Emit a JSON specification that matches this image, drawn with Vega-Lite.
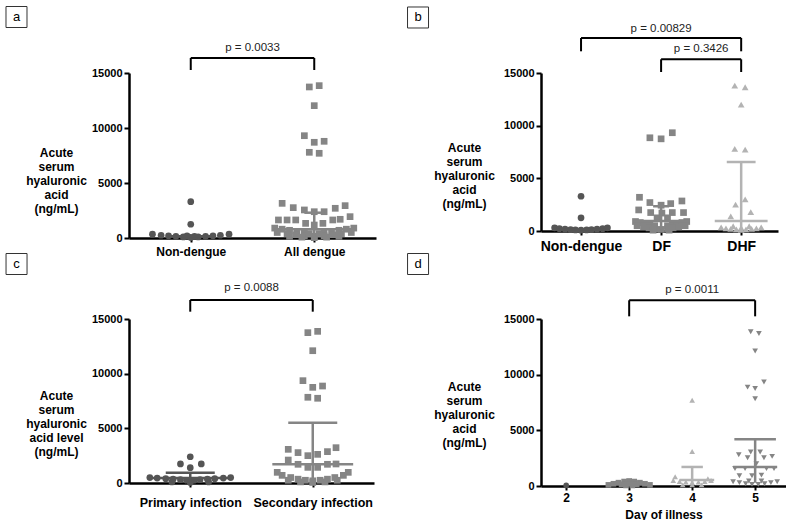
{
  "$schema": "https://vega.github.io/schema/vega-lite/v6.json",
  "background": "white",
  "padding": {"left": 3, "top": 4, "right": 0, "bottom": 0},
  "columns": 2,
  "spacing": {"row": 81, "column": 165},
  "bounds": "flush",
  "align": "each",
  "resolve": {"scale": {"x": "independent", "y": "independent"}},
  "config": {
    "view": {"stroke": null},
    "font": "Liberation Sans",
    "axis": {"domainColor": "black", "domainWidth": 2.5, "tickColor": "black", "tickWidth": 2, "labelColor": "black", "labelFont": "Liberation Sans", "labelFontWeight": "bold", "titleFont": "Liberation Sans", "titleFontWeight": "bold", "titleColor": "black", "grid": false, "labelOverlap": false, "labelFlush": false},
    "axisY": {"tickSize": 5, "labelFontSize": 11, "labelPadding": 2, "titleAngle": 0, "titleAlign": "center", "titleBaseline": "middle", "titleFontSize": 12, "titleLineHeight": 14},
    "axisX": {"tickSize": 4, "labelFontSize": 12}
  },
  "datasets": {
    "pts": [
      {"p":"a","g":"Non-dengue","x":1,"y":3300},{"p":"a","g":"Non-dengue","x":1,"y":1250},{"p":"a","g":"Non-dengue","x":0.69,"y":350},{"p":"a","g":"Non-dengue","x":0.76,"y":250},{"p":"a","g":"Non-dengue","x":0.82,"y":200},{"p":"a","g":"Non-dengue","x":0.88,"y":150},{"p":"a","g":"Non-dengue","x":0.94,"y":100},{"p":"a","g":"Non-dengue","x":1,"y":50},{"p":"a","g":"Non-dengue","x":1.06,"y":100},{"p":"a","g":"Non-dengue","x":1.12,"y":150},{"p":"a","g":"Non-dengue","x":1.18,"y":200},{"p":"a","g":"Non-dengue","x":1.24,"y":250},{"p":"a","g":"Non-dengue","x":1.31,"y":350},{"p":"a","g":"Non-dengue","x":0.97,"y":200},{"p":"a","g":"Non-dengue","x":1.03,"y":150},
      {"p":"a","g":"All dengue","x":1.96,"y":13730},{"p":"a","g":"All dengue","x":2.04,"y":13850},{"p":"a","g":"All dengue","x":2,"y":12030},{"p":"a","g":"All dengue","x":1.92,"y":9300},{"p":"a","g":"All dengue","x":2,"y":8700},{"p":"a","g":"All dengue","x":2.08,"y":8790},{"p":"a","g":"All dengue","x":1.96,"y":7790},{"p":"a","g":"All dengue","x":2.04,"y":7700},
      {"p":"a","g":"All dengue","x":1.74,"y":3150},{"p":"a","g":"All dengue","x":1.83,"y":2760},{"p":"a","g":"All dengue","x":1.92,"y":2550},{"p":"a","g":"All dengue","x":2,"y":2390},{"p":"a","g":"All dengue","x":2.08,"y":2390},{"p":"a","g":"All dengue","x":2.17,"y":2700},{"p":"a","g":"All dengue","x":2.25,"y":2940},{"p":"a","g":"All dengue","x":1.71,"y":1640},{"p":"a","g":"All dengue","x":1.78,"y":1640},{"p":"a","g":"All dengue","x":1.85,"y":1640},{"p":"a","g":"All dengue","x":1.93,"y":1330},{"p":"a","g":"All dengue","x":2,"y":1180},{"p":"a","g":"All dengue","x":2.07,"y":1330},{"p":"a","g":"All dengue","x":2.15,"y":1640},{"p":"a","g":"All dengue","x":2.21,"y":1700},{"p":"a","g":"All dengue","x":2.29,"y":1940},
      {"p":"a","g":"All dengue","x":1.68,"y":900},{"p":"a","g":"All dengue","x":1.74,"y":800},{"p":"a","g":"All dengue","x":1.8,"y":700},{"p":"a","g":"All dengue","x":1.86,"y":600},{"p":"a","g":"All dengue","x":1.92,"y":500},{"p":"a","g":"All dengue","x":2.08,"y":500},{"p":"a","g":"All dengue","x":2.14,"y":600},{"p":"a","g":"All dengue","x":2.2,"y":700},{"p":"a","g":"All dengue","x":2.26,"y":800},{"p":"a","g":"All dengue","x":2.32,"y":900},{"p":"a","g":"All dengue","x":1.7,"y":500},{"p":"a","g":"All dengue","x":1.78,"y":400},{"p":"a","g":"All dengue","x":1.85,"y":300},{"p":"a","g":"All dengue","x":1.92,"y":200},{"p":"a","g":"All dengue","x":2,"y":150},{"p":"a","g":"All dengue","x":2.08,"y":200},{"p":"a","g":"All dengue","x":2.15,"y":300},{"p":"a","g":"All dengue","x":2.22,"y":400},{"p":"a","g":"All dengue","x":2.3,"y":500},{"p":"a","g":"All dengue","x":1.8,"y":150},{"p":"a","g":"All dengue","x":1.9,"y":80},{"p":"a","g":"All dengue","x":2,"y":30},{"p":"a","g":"All dengue","x":2.1,"y":80},{"p":"a","g":"All dengue","x":2.2,"y":150},{"p":"a","g":"All dengue","x":1.96,"y":400},{"p":"a","g":"All dengue","x":2.04,"y":400},

      {"p":"b","g":"Non-dengue","x":1,"y":3300},{"p":"b","g":"Non-dengue","x":1,"y":1250},{"p":"b","g":"Non-dengue","x":0.67,"y":300},{"p":"b","g":"Non-dengue","x":0.73,"y":220},{"p":"b","g":"Non-dengue","x":0.8,"y":170},{"p":"b","g":"Non-dengue","x":0.87,"y":130},{"p":"b","g":"Non-dengue","x":0.93,"y":100},{"p":"b","g":"Non-dengue","x":1,"y":80},{"p":"b","g":"Non-dengue","x":1.07,"y":100},{"p":"b","g":"Non-dengue","x":1.13,"y":130},{"p":"b","g":"Non-dengue","x":1.2,"y":170},{"p":"b","g":"Non-dengue","x":1.27,"y":220},{"p":"b","g":"Non-dengue","x":1.33,"y":300},
      {"p":"b","g":"DF","x":1.86,"y":8850},{"p":"b","g":"DF","x":2,"y":8750},{"p":"b","g":"DF","x":2.14,"y":9330},{"p":"b","g":"DF","x":1.73,"y":3200},{"p":"b","g":"DF","x":1.86,"y":2700},{"p":"b","g":"DF","x":2,"y":2450},{"p":"b","g":"DF","x":2.12,"y":2600},{"p":"b","g":"DF","x":2.26,"y":2850},{"p":"b","g":"DF","x":1.72,"y":2000},{"p":"b","g":"DF","x":1.87,"y":1750},{"p":"b","g":"DF","x":2.01,"y":1700},{"p":"b","g":"DF","x":2.14,"y":1750},{"p":"b","g":"DF","x":2.28,"y":1750},{"p":"b","g":"DF","x":1.95,"y":1250},{"p":"b","g":"DF","x":2.08,"y":1250},
      {"p":"b","g":"DF","x":1.68,"y":900},{"p":"b","g":"DF","x":1.74,"y":800},{"p":"b","g":"DF","x":1.8,"y":700},{"p":"b","g":"DF","x":1.86,"y":600},{"p":"b","g":"DF","x":1.92,"y":500},{"p":"b","g":"DF","x":2.08,"y":500},{"p":"b","g":"DF","x":2.14,"y":600},{"p":"b","g":"DF","x":2.2,"y":700},{"p":"b","g":"DF","x":2.26,"y":800},{"p":"b","g":"DF","x":2.32,"y":900},{"p":"b","g":"DF","x":1.7,"y":500},{"p":"b","g":"DF","x":1.78,"y":400},{"p":"b","g":"DF","x":1.85,"y":300},{"p":"b","g":"DF","x":1.92,"y":200},{"p":"b","g":"DF","x":2,"y":150},{"p":"b","g":"DF","x":2.08,"y":200},{"p":"b","g":"DF","x":2.15,"y":300},{"p":"b","g":"DF","x":2.22,"y":400},{"p":"b","g":"DF","x":2.3,"y":500},{"p":"b","g":"DF","x":1.9,"y":80},{"p":"b","g":"DF","x":2.1,"y":80},
      {"p":"b","g":"DHF","x":2.92,"y":13800},{"p":"b","g":"DHF","x":3.05,"y":13650},{"p":"b","g":"DHF","x":3,"y":12000},{"p":"b","g":"DHF","x":2.92,"y":7800},{"p":"b","g":"DHF","x":3.05,"y":7720},{"p":"b","g":"DHF","x":2.93,"y":2500},{"p":"b","g":"DHF","x":3.05,"y":3000},{"p":"b","g":"DHF","x":2.87,"y":1380},{"p":"b","g":"DHF","x":3.12,"y":1800},{"p":"b","g":"DHF","x":2.75,"y":350},{"p":"b","g":"DHF","x":2.81,"y":250},{"p":"b","g":"DHF","x":2.87,"y":200},{"p":"b","g":"DHF","x":2.94,"y":150},{"p":"b","g":"DHF","x":3,"y":100},{"p":"b","g":"DHF","x":3.06,"y":150},{"p":"b","g":"DHF","x":3.13,"y":200},{"p":"b","g":"DHF","x":3.19,"y":250},{"p":"b","g":"DHF","x":3.25,"y":350},{"p":"b","g":"DHF","x":2.9,"y":450},{"p":"b","g":"DHF","x":3.1,"y":450},{"p":"b","g":"DHF","x":3,"y":300},

      {"p":"c","g":"Primary infection","x":1,"y":2400},{"p":"c","g":"Primary infection","x":0.92,"y":1740},{"p":"c","g":"Primary infection","x":1.09,"y":1740},{"p":"c","g":"Primary infection","x":1,"y":1400},{"p":"c","g":"Primary infection","x":0.67,"y":500},{"p":"c","g":"Primary infection","x":0.73,"y":450},{"p":"c","g":"Primary infection","x":0.8,"y":400},{"p":"c","g":"Primary infection","x":0.86,"y":350},{"p":"c","g":"Primary infection","x":0.92,"y":300},{"p":"c","g":"Primary infection","x":0.97,"y":250},{"p":"c","g":"Primary infection","x":1.03,"y":250},{"p":"c","g":"Primary infection","x":1.08,"y":300},{"p":"c","g":"Primary infection","x":1.14,"y":350},{"p":"c","g":"Primary infection","x":1.2,"y":400},{"p":"c","g":"Primary infection","x":1.27,"y":450},{"p":"c","g":"Primary infection","x":1.33,"y":500},{"p":"c","g":"Primary infection","x":0.85,"y":100},{"p":"c","g":"Primary infection","x":1,"y":50},{"p":"c","g":"Primary infection","x":1.15,"y":100},
      {"p":"c","g":"Secondary infection","x":1.96,"y":13750},{"p":"c","g":"Secondary infection","x":2.04,"y":13870},{"p":"c","g":"Secondary infection","x":2,"y":12100},{"p":"c","g":"Secondary infection","x":1.92,"y":9360},{"p":"c","g":"Secondary infection","x":2,"y":8750},{"p":"c","g":"Secondary infection","x":2.08,"y":8870},{"p":"c","g":"Secondary infection","x":1.96,"y":7840},{"p":"c","g":"Secondary infection","x":2.04,"y":7750},
      {"p":"c","g":"Secondary infection","x":1.8,"y":3080},{"p":"c","g":"Secondary infection","x":1.88,"y":2780},{"p":"c","g":"Secondary infection","x":1.96,"y":2500},{"p":"c","g":"Secondary infection","x":2.04,"y":2620},{"p":"c","g":"Secondary infection","x":2.12,"y":2870},{"p":"c","g":"Secondary infection","x":2.19,"y":3230},{"p":"c","g":"Secondary infection","x":1.8,"y":2100},{"p":"c","g":"Secondary infection","x":1.88,"y":1710},{"p":"c","g":"Secondary infection","x":1.96,"y":1430},{"p":"c","g":"Secondary infection","x":2.04,"y":1430},{"p":"c","g":"Secondary infection","x":2.12,"y":1710},{"p":"c","g":"Secondary infection","x":2.19,"y":1740},{"p":"c","g":"Secondary infection","x":1.71,"y":975},{"p":"c","g":"Secondary infection","x":2.29,"y":975},
      {"p":"c","g":"Secondary infection","x":1.75,"y":700},{"p":"c","g":"Secondary infection","x":1.82,"y":500},{"p":"c","g":"Secondary infection","x":1.88,"y":350},{"p":"c","g":"Secondary infection","x":1.94,"y":250},{"p":"c","g":"Secondary infection","x":2,"y":200},{"p":"c","g":"Secondary infection","x":2.06,"y":250},{"p":"c","g":"Secondary infection","x":2.12,"y":350},{"p":"c","g":"Secondary infection","x":2.18,"y":500},{"p":"c","g":"Secondary infection","x":2.25,"y":700},{"p":"c","g":"Secondary infection","x":1.9,"y":100},{"p":"c","g":"Secondary infection","x":2.1,"y":100},{"p":"c","g":"Secondary infection","x":2,"y":50},{"p":"c","g":"Secondary infection","x":1.8,"y":250},{"p":"c","g":"Secondary infection","x":2.2,"y":250},

      {"p":"d","g":"Day 2","x":2,"y":50},
      {"p":"d","g":"Day 3","x":2.67,"y":100},{"p":"d","g":"Day 3","x":2.75,"y":200},{"p":"d","g":"Day 3","x":2.83,"y":300},{"p":"d","g":"Day 3","x":2.92,"y":400},{"p":"d","g":"Day 3","x":3,"y":450},{"p":"d","g":"Day 3","x":3.08,"y":400},{"p":"d","g":"Day 3","x":3.17,"y":300},{"p":"d","g":"Day 3","x":3.25,"y":200},{"p":"d","g":"Day 3","x":3.33,"y":100},{"p":"d","g":"Day 3","x":2.88,"y":150},{"p":"d","g":"Day 3","x":3,"y":200},{"p":"d","g":"Day 3","x":3.12,"y":150},{"p":"d","g":"Day 3","x":2.95,"y":50},{"p":"d","g":"Day 3","x":3.05,"y":50},
      {"p":"d","g":"Day 4","x":4,"y":7700},{"p":"d","g":"Day 4","x":4,"y":3100},{"p":"d","g":"Day 4","x":3.73,"y":830},{"p":"d","g":"Day 4","x":3.7,"y":500},{"p":"d","g":"Day 4","x":3.8,"y":400},{"p":"d","g":"Day 4","x":3.9,"y":350},{"p":"d","g":"Day 4","x":4,"y":300},{"p":"d","g":"Day 4","x":4.1,"y":350},{"p":"d","g":"Day 4","x":4.2,"y":400},{"p":"d","g":"Day 4","x":4.3,"y":500},{"p":"d","g":"Day 4","x":3.85,"y":100},{"p":"d","g":"Day 4","x":4,"y":100},{"p":"d","g":"Day 4","x":4.15,"y":100},{"p":"d","g":"Day 4","x":4.25,"y":650},
      {"p":"d","g":"Day 5","x":4.93,"y":13850},{"p":"d","g":"Day 5","x":5.06,"y":13700},{"p":"d","g":"Day 5","x":5,"y":12130},{"p":"d","g":"Day 5","x":4.88,"y":8880},{"p":"d","g":"Day 5","x":5,"y":8760},{"p":"d","g":"Day 5","x":5.14,"y":9340},{"p":"d","g":"Day 5","x":5,"y":7840},{"p":"d","g":"Day 5","x":4.74,"y":2810},{"p":"d","g":"Day 5","x":4.88,"y":2540},{"p":"d","g":"Day 5","x":4.93,"y":3050},{"p":"d","g":"Day 5","x":5.08,"y":3050},{"p":"d","g":"Day 5","x":5.14,"y":2540},{"p":"d","g":"Day 5","x":5.27,"y":2660},{"p":"d","g":"Day 5","x":4.68,"y":1570},{"p":"d","g":"Day 5","x":4.84,"y":1570},{"p":"d","g":"Day 5","x":5.02,"y":2010},{"p":"d","g":"Day 5","x":5.18,"y":1570},{"p":"d","g":"Day 5","x":5.3,"y":1570},{"p":"d","g":"Day 5","x":4.75,"y":915},{"p":"d","g":"Day 5","x":4.95,"y":915},{"p":"d","g":"Day 5","x":5.1,"y":975},{"p":"d","g":"Day 5","x":4.65,"y":380},{"p":"d","g":"Day 5","x":4.75,"y":300},{"p":"d","g":"Day 5","x":4.85,"y":200},{"p":"d","g":"Day 5","x":4.95,"y":150},{"p":"d","g":"Day 5","x":5.05,"y":150},{"p":"d","g":"Day 5","x":5.15,"y":200},{"p":"d","g":"Day 5","x":5.25,"y":300},{"p":"d","g":"Day 5","x":5.35,"y":380},{"p":"d","g":"Day 5","x":4.9,"y":450},{"p":"d","g":"Day 5","x":5.1,"y":450}
    ],
    "lines": [
      {"p":"a","g":"Non-dengue","x":0.84,"x2":1.16,"y":150,"y2":150},
      {"p":"a","g":"All dengue","x":1.68,"x2":2.32,"y":790,"y2":790},
      {"p":"a","g":"All dengue","x":2,"x2":2,"y":100,"y2":2300},
      {"p":"a","g":"All dengue","x":1.92,"x2":2.08,"y":2300,"y2":2300},
      {"p":"b","g":"Non-dengue","x":0.7,"x2":1.3,"y":150,"y2":150},
      {"p":"b","g":"DF","x":1.65,"x2":2.35,"y":950,"y2":950},
      {"p":"b","g":"DF","x":2,"x2":2,"y":100,"y2":2350},
      {"p":"b","g":"DF","x":1.9,"x2":2.1,"y":2350,"y2":2350},
      {"p":"b","g":"DHF","x":2.67,"x2":3.33,"y":950,"y2":950},
      {"p":"b","g":"DHF","x":2.82,"x2":3.18,"y":6550,"y2":6550},
      {"p":"b","g":"DHF","x":3,"x2":3,"y":200,"y2":6550},
      {"p":"c","g":"Primary infection","x":0.67,"x2":1.33,"y":450,"y2":450},
      {"p":"c","g":"Primary infection","x":0.8,"x2":1.2,"y":940,"y2":940},
      {"p":"c","g":"Primary infection","x":1,"x2":1,"y":100,"y2":940},
      {"p":"c","g":"Secondary infection","x":1.67,"x2":2.33,"y":1710,"y2":1710},
      {"p":"c","g":"Secondary infection","x":1.8,"x2":2.2,"y":5520,"y2":5520},
      {"p":"c","g":"Secondary infection","x":2,"x2":2,"y":200,"y2":5520},
      {"p":"d","g":"Day 3","x":2.75,"x2":3.25,"y":250,"y2":250},
      {"p":"d","g":"Day 4","x":3.8,"x2":4.35,"y":530,"y2":530},
      {"p":"d","g":"Day 4","x":3.83,"x2":4.17,"y":1710,"y2":1710},
      {"p":"d","g":"Day 4","x":4,"x2":4,"y":100,"y2":1710},
      {"p":"d","g":"Day 5","x":4.65,"x2":5.35,"y":1710,"y2":1710},
      {"p":"d","g":"Day 5","x":4.67,"x2":5.33,"y":4200,"y2":4200},
      {"p":"d","g":"Day 5","x":5,"x2":5,"y":300,"y2":4200}
    ],
    "brk": [
      {"p":"a","x":1,"x2":1,"y":15270,"y2":16364},{"p":"a","x":1,"x2":2,"y":16364,"y2":16364},{"p":"a","x":2,"x2":2,"y":16364,"y2":15270},
      {"p":"b","x":1,"x2":1,"y":17060,"y2":18323},{"p":"b","x":1,"x2":3,"y":18323,"y2":18323},{"p":"b","x":3,"x2":3,"y":18323,"y2":17060},
      {"p":"b","x":2,"x2":2,"y":15095,"y2":16300},{"p":"b","x":2,"x2":3,"y":16300,"y2":16300},{"p":"b","x":3,"x2":3,"y":16300,"y2":15095},
      {"p":"c","x":1,"x2":1,"y":15670,"y2":16740},{"p":"c","x":1,"x2":2,"y":16740,"y2":16740},{"p":"c","x":2,"x2":2,"y":16740,"y2":15670},
      {"p":"d","x":3,"x2":3,"y":15240,"y2":16680},{"p":"d","x":3,"x2":5,"y":16680,"y2":16680},{"p":"d","x":5,"x2":5,"y":16680,"y2":15240}
    ],
    "ptxt": [
      {"p":"a","x":1.5,"y":17270,"t":"p = 0.0033"},
      {"p":"b","x":2,"y":19206,"t":"p = 0.00829"},
      {"p":"b","x":2.5,"y":17250,"t":"p = 0.3426"},
      {"p":"c","x":1.5,"y":17800,"t":"p = 0.0088"},
      {"p":"d","x":4,"y":17580,"t":"p = 0.0011"}
    ],
    "boxes": [
      {"p":"a","x":-0.411,"y":20090,"t":"a"},
      {"p":"b","x":-1.036,"y":20269,"t":"b"},
      {"p":"c","x":-0.418,"y":20030,"t":"c"},
      {"p":"d","x":-0.352,"y":19940,"t":"d"}
    ]
  },
  "concat": [
    {
      "width": 247, "height": 165,
      "encoding": {
        "x": {"field": "x", "type": "quantitative", "scale": {"domain": [0.5, 2.5], "nice": false, "zero": false},
              "axis": {"title": null, "values": [1, 2], "labelExpr": "datum.value == 1 ? 'Non-dengue' : 'All dengue'", "labelPadding": 4, "labelFontSize": 12}},
        "y": {"field": "y", "type": "quantitative", "scale": {"domain": [0, 15000], "nice": false},
              "axis": {"values": [0, 5000, 10000, 15000], "format": "d", "title": ["Acute", "serum", "hyaluronic", "acid", "(ng/mL)"], "titleX": -73, "titleY": 79}}
      },
      "layer": [
        {"data": {"name": "pts"}, "transform": [{"filter": "datum.p == 'a'"}],
         "mark": {"type": "point", "filled": true, "opacity": 1, "size": 45, "strokeWidth": 0},
         "encoding": {
           "color": {"field": "g", "type": "nominal", "legend": null, "scale": {"domain": ["Non-dengue","All dengue","DF","DHF","Primary infection","Secondary infection","Day 2","Day 3","Day 4","Day 5"], "range": ["#555555","#858585","#858585","#b3b3b3","#555555","#858585","#555555","#858585","#b3b3b3","#858585"]}},
           "shape": {"field": "g", "type": "nominal", "legend": null, "scale": {"domain": ["Non-dengue","All dengue","DF","DHF","Primary infection","Secondary infection","Day 2","Day 3","Day 4","Day 5"], "range": ["circle","square","square","triangle-up","circle","square","circle","square","triangle-up","triangle-down"]}}
         }},
        {"data": {"name": "lines"}, "transform": [{"filter": "datum.p == 'a'"}],
         "mark": {"type": "rule", "strokeWidth": 2.5},
         "encoding": {"x2": {"field": "x2"}, "y2": {"field": "y2"}, "color": {"field": "g", "type": "nominal", "legend": null}}},
        {"data": {"name": "brk"}, "transform": [{"filter": "datum.p == 'a'"}],
         "mark": {"type": "rule", "strokeWidth": 2, "color": "black"},
         "encoding": {"x2": {"field": "x2"}, "y2": {"field": "y2"}}},
        {"data": {"name": "ptxt"}, "transform": [{"filter": "datum.p == 'a'"}],
         "mark": {"type": "text", "fontSize": 11.5, "baseline": "middle", "color": "#222"},
         "encoding": {"text": {"field": "t"}}},
        {"data": {"name": "boxes"}, "transform": [{"filter": "datum.p == 'a'"}],
         "mark": {"type": "point", "shape": "square", "size": 441, "filled": false, "stroke": "#333", "strokeWidth": 1, "opacity": 1},
         "encoding": {}},
        {"data": {"name": "boxes"}, "transform": [{"filter": "datum.p == 'a'"}],
         "mark": {"type": "text", "fontSize": 13, "baseline": "middle", "color": "black"},
         "encoding": {"text": {"field": "t"}}}
      ]
    },
    {
      "width": 237, "height": 158,
      "encoding": {
        "x": {"field": "x", "type": "quantitative", "scale": {"domain": [0.5, 3.46], "nice": false, "zero": false},
              "axis": {"title": null, "values": [1, 2, 3], "labelExpr": "datum.value == 1 ? 'Non-dengue' : datum.value == 2 ? 'DF' : 'DHF'", "labelPadding": 4, "labelFontSize": 14}},
        "y": {"field": "y", "type": "quantitative", "scale": {"domain": [0, 15000], "nice": false},
              "axis": {"values": [0, 5000, 10000, 15000], "format": "d", "title": ["Acute", "serum", "hyaluronic", "acid", "(ng/mL)"], "titleX": -77, "titleY": 74}}
      },
      "layer": [
        {"data": {"name": "pts"}, "transform": [{"filter": "datum.p == 'b'"}],
         "mark": {"type": "point", "filled": true, "opacity": 1, "size": 45, "strokeWidth": 0},
         "encoding": {
           "color": {"field": "g", "type": "nominal", "legend": null},
           "shape": {"field": "g", "type": "nominal", "legend": null}
         }},
        {"data": {"name": "lines"}, "transform": [{"filter": "datum.p == 'b'"}],
         "mark": {"type": "rule", "strokeWidth": 2.5},
         "encoding": {"x2": {"field": "x2"}, "y2": {"field": "y2"}, "color": {"field": "g", "type": "nominal", "legend": null}}},
        {"data": {"name": "brk"}, "transform": [{"filter": "datum.p == 'b'"}],
         "mark": {"type": "rule", "strokeWidth": 2, "color": "black"},
         "encoding": {"x2": {"field": "x2"}, "y2": {"field": "y2"}}},
        {"data": {"name": "ptxt"}, "transform": [{"filter": "datum.p == 'b'"}],
         "mark": {"type": "text", "fontSize": 11.5, "baseline": "middle", "color": "#222"},
         "encoding": {"text": {"field": "t"}}},
        {"data": {"name": "boxes"}, "transform": [{"filter": "datum.p == 'b'"}],
         "mark": {"type": "point", "shape": "square", "size": 441, "filled": false, "stroke": "#333", "strokeWidth": 1, "opacity": 1},
         "encoding": {}},
        {"data": {"name": "boxes"}, "transform": [{"filter": "datum.p == 'b'"}],
         "mark": {"type": "text", "fontSize": 13, "baseline": "middle", "color": "black"},
         "encoding": {"text": {"field": "t"}}}
      ]
    },
    {
      "width": 245, "height": 164,
      "encoding": {
        "x": {"field": "x", "type": "quantitative", "scale": {"domain": [0.5, 2.5], "nice": false, "zero": false},
              "axis": {"title": null, "values": [1, 2], "labelExpr": "datum.value == 1 ? 'Primary infection' : 'Secondary infection'", "labelPadding": 9, "labelFontSize": 12.5}},
        "y": {"field": "y", "type": "quantitative", "scale": {"domain": [0, 15000], "nice": false},
              "axis": {"values": [0, 5000, 10000, 15000], "format": "d", "title": ["Acute", "serum", "hyaluronic", "acid level", "(ng/mL)"], "titleX": -73, "titleY": 76}}
      },
      "layer": [
        {"data": {"name": "pts"}, "transform": [{"filter": "datum.p == 'c'"}],
         "mark": {"type": "point", "filled": true, "opacity": 1, "size": 45, "strokeWidth": 0},
         "encoding": {
           "color": {"field": "g", "type": "nominal", "legend": null},
           "shape": {"field": "g", "type": "nominal", "legend": null}
         }},
        {"data": {"name": "lines"}, "transform": [{"filter": "datum.p == 'c'"}],
         "mark": {"type": "rule", "strokeWidth": 2.5},
         "encoding": {"x2": {"field": "x2"}, "y2": {"field": "y2"}, "color": {"field": "g", "type": "nominal", "legend": null}}},
        {"data": {"name": "brk"}, "transform": [{"filter": "datum.p == 'c'"}],
         "mark": {"type": "rule", "strokeWidth": 2, "color": "black"},
         "encoding": {"x2": {"field": "x2"}, "y2": {"field": "y2"}}},
        {"data": {"name": "ptxt"}, "transform": [{"filter": "datum.p == 'c'"}],
         "mark": {"type": "text", "fontSize": 11.5, "baseline": "middle", "color": "#222"},
         "encoding": {"text": {"field": "t"}}},
        {"data": {"name": "boxes"}, "transform": [{"filter": "datum.p == 'c'"}],
         "mark": {"type": "point", "shape": "square", "size": 441, "filled": false, "stroke": "#333", "strokeWidth": 1, "opacity": 1},
         "encoding": {}},
        {"data": {"name": "boxes"}, "transform": [{"filter": "datum.p == 'c'"}],
         "mark": {"type": "text", "fontSize": 13, "baseline": "middle", "color": "black"},
         "encoding": {"text": {"field": "t"}}}
      ]
    },
    {
      "width": 245, "height": 167,
      "encoding": {
        "x": {"field": "x", "type": "quantitative", "scale": {"domain": [1.6, 5.49], "nice": false, "zero": false},
              "axis": {"title": "Day of illness", "titleFontSize": 12, "titlePadding": 6, "values": [2, 3, 4, 5], "format": "d", "labelPadding": 2, "labelFontSize": 12}},
        "y": {"field": "y", "type": "quantitative", "scale": {"domain": [0, 15000], "nice": false},
              "axis": {"values": [0, 5000, 10000, 15000], "format": "d", "title": ["Acute", "serum", "hyaluronic", "acid", "(ng/mL)"], "titleX": -77, "titleY": 67}}
      },
      "layer": [
        {"data": {"name": "pts"}, "transform": [{"filter": "datum.p == 'd'"}],
         "mark": {"type": "point", "filled": true, "opacity": 1, "size": 32, "strokeWidth": 0},
         "encoding": {
           "color": {"field": "g", "type": "nominal", "legend": null},
           "shape": {"field": "g", "type": "nominal", "legend": null}
         }},
        {"data": {"name": "lines"}, "transform": [{"filter": "datum.p == 'd'"}],
         "mark": {"type": "rule", "strokeWidth": 2.5},
         "encoding": {"x2": {"field": "x2"}, "y2": {"field": "y2"}, "color": {"field": "g", "type": "nominal", "legend": null}}},
        {"data": {"name": "brk"}, "transform": [{"filter": "datum.p == 'd'"}],
         "mark": {"type": "rule", "strokeWidth": 2, "color": "black"},
         "encoding": {"x2": {"field": "x2"}, "y2": {"field": "y2"}}},
        {"data": {"name": "ptxt"}, "transform": [{"filter": "datum.p == 'd'"}],
         "mark": {"type": "text", "fontSize": 11.5, "baseline": "middle", "color": "#222"},
         "encoding": {"text": {"field": "t"}}},
        {"data": {"name": "boxes"}, "transform": [{"filter": "datum.p == 'd'"}],
         "mark": {"type": "point", "shape": "square", "size": 441, "filled": false, "stroke": "#333", "strokeWidth": 1, "opacity": 1},
         "encoding": {}},
        {"data": {"name": "boxes"}, "transform": [{"filter": "datum.p == 'd'"}],
         "mark": {"type": "text", "fontSize": 13, "baseline": "middle", "color": "black"},
         "encoding": {"text": {"field": "t"}}}
      ]
    }
  ]
}
